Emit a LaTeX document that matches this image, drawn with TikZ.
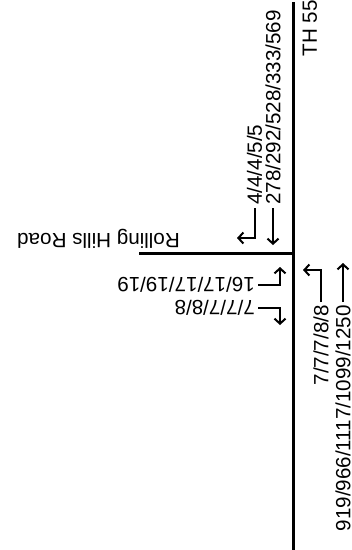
\documentclass[tikz,border=0pt]{standalone}
\usepackage{fontspec}
\setmainfont{Liberation Sans}
\usetikzlibrary{arrows.meta}
\begin{document}
\begin{tikzpicture}[x=1pt, y=1pt, >={Straight Barb[length=5pt,width=11pt]},
    lbl/.style={inner sep=3pt, font=\fontsize{20.6}{24}\selectfont},
    road/.style={line width=3.8pt},
    flow/.style={line width=2pt, ->}]
    \useasboundingbox (0,0) rectangle (352,-550);
    \draw[road] (293.5,-2) -- (293.5,-550);
    \draw[road] (139,-253.5) -- (293.5,-253.5);
    \node[lbl, rotate=90, anchor=west] (mainName) at (310,-59.5) {TH 55};
    \node[lbl, rotate=180, anchor=base west] (sideName) at (183,-233.5) {Rolling Hills Road};
    \node[lbl, rotate=90, anchor=west] (nwThru) at (273,-208) {278/292/528/333/569};
    \node[lbl, rotate=90, anchor=west] (nwLeft) at (254.5,-208) {4/4/4/5/5};
    \node[lbl, rotate=180, anchor=west] (swLeft) at (258,-284.5) {16/17/17/19/19};
    \node[lbl, rotate=180, anchor=west] (swRight) at (258,-308) {7/7/7/8/8};
    \node[lbl, rotate=90, anchor=east] (seLeft) at (321,-302) {7/7/7/8/8};
    \node[lbl, rotate=90, anchor=east] (seThru) at (343,-302) {919/966/1117/1099/1250};
    \coordinate (nwThruTip) at (273,-245);
    \coordinate (nwLeftTip) at (237,-238);
    \coordinate (swLeftTip) at (280,-267);
    \coordinate (swRightTip) at (280,-325);
    \coordinate (seLeftTip) at (303,-270);
    \coordinate (seThruTip) at (343,-263);
    \draw[flow] (nwThru.west) -- (nwThruTip);
    \draw[flow] (nwLeft.west) |- (nwLeftTip);
    \draw[flow] (swLeft.west) -| (swLeftTip);
    \draw[flow] (swRight.west) -| (swRightTip);
    \draw[flow] (seLeft.east) |- (seLeftTip);
    \draw[flow] (seThru.east) -- (seThruTip);
\end{tikzpicture}
\end{document}
